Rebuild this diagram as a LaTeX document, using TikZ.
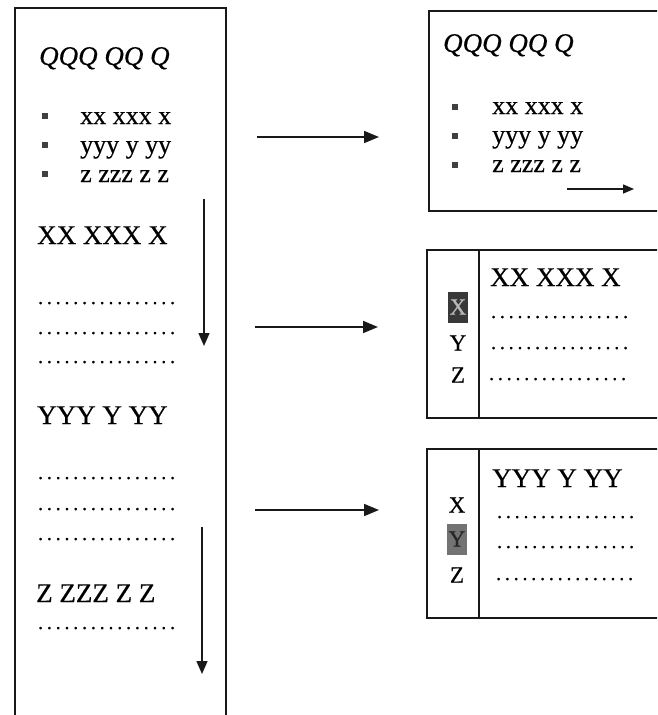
\documentclass[tikz,border=0pt]{standalone}
\usepackage{fontspec}
\setmainfont{Liberation Serif}[FakeBold=0.4]
\usetikzlibrary{arrows.meta}
\newcommand\mydot{\makebox[8.8pt]{.}}
\newcommand\dotrow{\mydot\mydot\mydot\mydot\mydot\mydot\mydot\mydot\mydot\mydot\mydot\mydot\mydot\mydot\mydot\mydot}
\begin{document}
\begin{tikzpicture}[x=1pt,y=-1pt,
  frame/.style={line width=1.7pt, draw=black!90},
  arr/.style={line width=1.7pt, draw=black!90, -{Triangle[length=15pt,width=12pt]}},
  darr/.style={line width=1.5pt, draw=black!90, -{Triangle[length=13pt,width=11pt]}},
  sarr/.style={line width=1.5pt, draw=black!90, -{Triangle[length=11pt,width=9pt]}},
  head/.style={inner sep=0pt, anchor=base west, font=\fontsize{27}{30}\selectfont},
  qhead/.style={inner sep=0pt, anchor=base west, font=\fontsize{27}{30}\selectfont\itshape},
  btext/.style={inner sep=0pt, anchor=base west, font=\fontsize{26}{30}\selectfont},
  dots/.style={inner sep=0pt, anchor=base west, font=\fontsize{20}{24}\selectfont},
  bul/.style={fill=black!75, minimum size=5.5pt, inner sep=0pt},
  letter/.style={inner sep=0pt, anchor=center, font=\fontsize{23}{26}\selectfont},
  hiX/.style={letter, fill=black!78, text=black!28, minimum width=20pt, minimum height=31pt},
  hiY/.style={letter, fill=black!55, text=black!85, minimum width=20pt, minimum height=31pt}
]
\useasboundingbox (0,0) rectangle (657,715);
\clip (0,0) rectangle (657,715);
\fill[white] (0,0) rectangle (657,715);

% ---------- left page ----------
\draw[frame] (15,716) -- (15,8) -- (226,8) -- (226,716);
\node[qhead] (lq) at (39,65) {QQQ QQ Q};
\node[bul] (lb1) at (45,116) {};
\node[bul] (lb2) at (45,145) {};
\node[bul] (lb3) at (45,174) {};
\node[btext] (lt1) at (80,124) {xx xxx x};
\node[btext] (lt2) at (80,153) {yyy y yy};
\node[btext] (lt3) at (80,182) {z zzz z z};
\node[head] (lx) at (37,244) {XX XXX X};
\node[dots] (ld1) at (36,304) {\dotrow};
\node[dots] (ld2) at (36,334) {\dotrow};
\node[dots] (ld3) at (36,363) {\dotrow};
\node[head] (ly) at (37,424) {YYY Y YY};
\node[dots] (ld4) at (36,479) {\dotrow};
\node[dots] (ld5) at (36,510) {\dotrow};
\node[dots] (ld6) at (36,540) {\dotrow};
\node[head] (lz) at (36,602) {Z ZZZ Z Z};
\node[dots] (ld7) at (36,629) {\dotrow};

\coordinate (d1s) at (204,199);
\coordinate (d1e) at (204,346);
\coordinate (d2s) at (202,527);
\coordinate (d2e) at (202,674);
\draw[darr] (d1s) -- (d1e);
\draw[darr] (d2s) -- (d2e);

% ---------- middle arrows ----------
\coordinate (a1s) at (257,137);
\coordinate (a1e) at (379,137);
\coordinate (a2s) at (255,327);
\coordinate (a2e) at (378,327);
\coordinate (a3s) at (255,510);
\coordinate (a3e) at (379,510);
\draw[arr] (a1s) -- (a1e);
\draw[arr] (a2s) -- (a2e);
\draw[arr] (a3s) -- (a3e);

% ---------- right box 1 ----------
\draw[frame] (665,11) -- (429,11) -- (429,211) -- (665,211);
\node[qhead] (rq) at (443,52) {QQQ QQ Q};
\node[bul] (rb1) at (455,107) {};
\node[bul] (rb2) at (455,136) {};
\node[bul] (rb3) at (455,165) {};
\node[btext] (rt1) at (492,114) {xx xxx x};
\node[btext] (rt2) at (492,143) {yyy y yy};
\node[btext] (rt3) at (492,172) {z zzz z z};
\coordinate (sas) at (567,189);
\coordinate (sae) at (634,189);
\draw[sarr] (sas) -- (sae);

% ---------- right box 2 ----------
\draw[frame] (665,250) -- (427,250) -- (427,418) -- (665,418);
\draw[frame] (479,250) -- (479,418);
\node[hiX] (b2x) at (458,307) {X};
\node[letter] (b2y) at (458,343) {Y};
\node[letter] (b2z) at (458,375) {Z};
\node[head] (b2h) at (490,286) {XX XXX X};
\node[dots] (b2d1) at (489,318) {\dotrow};
\node[dots] (b2d2) at (489,349) {\dotrow};
\node[dots] (b2d3) at (487,380) {\dotrow};

% ---------- right box 3 ----------
\draw[frame] (665,449) -- (427,449) -- (427,618) -- (665,618);
\draw[frame] (479,449) -- (479,618);
\node[letter] (b3x) at (457,505) {X};
\node[hiY] (b3y) at (457,539) {Y};
\node[letter] (b3z) at (457,575) {Z};
\node[head] (b3h) at (492,487) {YYY Y YY};
\node[dots] (b3d1) at (495,518) {\dotrow};
\node[dots] (b3d2) at (495,548) {\dotrow};
\node[dots] (b3d3) at (494,580) {\dotrow};
\end{tikzpicture}
\end{document}
